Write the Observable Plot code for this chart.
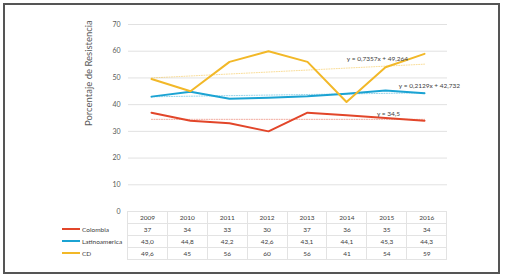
<!DOCTYPE html>
<html><head><meta charset="utf-8">
<script src="https://cdn.jsdelivr.net/npm/d3@7"></script>
<script src="https://cdn.jsdelivr.net/npm/@observablehq/plot@0.6"></script>
<style>
body{margin:0;background:#fff;font-family:Lato,"Open Sans",sans-serif;}
#wrap{position:relative;width:505px;height:279px;overflow:hidden;}
#frame{position:absolute;left:3px;top:3px;width:493px;height:267px;border:2px solid #555;}
#chart{position:absolute;left:0;top:0;}
table{position:absolute;left:62px;top:211px;border-collapse:collapse;font-size:6.5px;color:#404040;}
td{height:11px;padding:0;text-align:center;border:1px solid #e3e3e3;width:38.9px;}
td.lab{border:none;text-align:left;width:65px;white-space:nowrap;}
.sw{display:inline-block;width:18px;height:2px;vertical-align:middle;margin-right:2px;position:relative;top:-1px;}
</style></head>
<body><div id="wrap"><div id="frame"></div><div id="chart"></div></div>
<script>
const years = [2009, 2010, 2011, 2012, 2013, 2014, 2015, 2016];
const colombia = [37, 34, 33, 30, 37, 36, 35, 34];
const latam = [43.0, 44.8, 42.2, 42.6, 43.1, 44.1, 45.3, 44.3];
const cd = [49.6, 45, 56, 60, 56, 41, 54, 59];
const seriesNames = ["Colombia", "Latinoamerica", "CD"];
const seriesLabels = [["37","34","33","30","37","36","35","34"],["43,0","44,8","42,2","42,6","43,1","44,1","45,3","44,3"],["49,6","45","56","60","56","41","54","59"]];
const colors = ["#E2462A", "#1BA3D3", "#F2B828"];
const trendSlope = [0, 0.2129, 0.7357];
const trendIntercept = [34.5, 42.732, 49.264];
const trendText = ["y = 34,5", "y = 0,2129x + 42,732", "y = 0,7357x + 49,264"];
const yTicks = [0, 10, 20, 30, 40, 50, 60, 70];

const all = [colombia, latam, cd];
const rows = [];
all.forEach((vals, s) => vals.forEach((v, i) => rows.push({series: seriesNames[s], year: years[i], value: v})));
const trends = [];
seriesNames.forEach((n, s) => years.forEach((yr, i) => trends.push({series: n, year: yr, value: trendSlope[s] * (i + 1) + trendIntercept[s]})));
const notes = [
  {series: "Colombia", year: 2015, value: 36.7, text: trendText[0]},
  {series: "Latinoamerica", year: 2016, value: 47.2, text: trendText[1]},
  {series: "CD", year: 2014, value: 57.3, text: trendText[2]}
];
const noteDx = [3, 5, 31];

const plot = Plot.plot({
  width: 505, height: 279,
  marginLeft: 128, marginRight: 58, marginTop: 24, marginBottom: 68,
  style: {fontFamily: "Lato, 'Open Sans', sans-serif", background: "transparent"},
  x: {type: "point", domain: years, padding: 0.5, axis: null},
  y: {domain: [0, 70], ticks: yTicks, label: null},
  color: {domain: seriesNames, range: colors},
  marks: [
    Plot.gridY(yTicks, {stroke: "#d9d9d9", strokeOpacity: 1, strokeWidth: 0.8}),
    Plot.axisY(yTicks, {tickSize: 0, tickPadding: 8, fontSize: 7, fill: "#595959"}),
    Plot.text(["Porcentaje de Resistencia"], {frameAnchor: "left", dx: -40, dy: 8, rotate: -90, fontSize: 9.5, fill: "#595959"}),
    Plot.line(trends, {x: "year", y: "value", z: "series", stroke: "series", strokeWidth: 0.8, strokeDasharray: "1,1.5", strokeOpacity: 0.6}),
    Plot.line(rows, {x: "year", y: "value", z: "series", stroke: "series", strokeWidth: 2}),
    Plot.text(notes, {x: "year", y: "value", text: "text", fontSize: 6.5, fill: "#404040"})
  ]
});
plot.querySelectorAll("g[aria-label='text']").forEach(g => {
  const ts = g.querySelectorAll("text");
  if (ts.length === 3) ts.forEach((t, i) => t.setAttribute("dx", noteDx[i]));
});
document.getElementById("chart").appendChild(plot);

const table = document.createElement("table");
let html = "<tr><td class='lab'></td>" + years.map(y => `<td>${y}</td>`).join("") + "</tr>";
seriesNames.forEach((n, s) => {
  html += `<tr><td class='lab'><span class='sw' style='background:${colors[s]}'></span>${n}</td>` + seriesLabels[s].map(v => `<td>${v}</td>`).join("") + "</tr>";
});
table.innerHTML = html;
document.getElementById("wrap").appendChild(table);
</script></body></html>
